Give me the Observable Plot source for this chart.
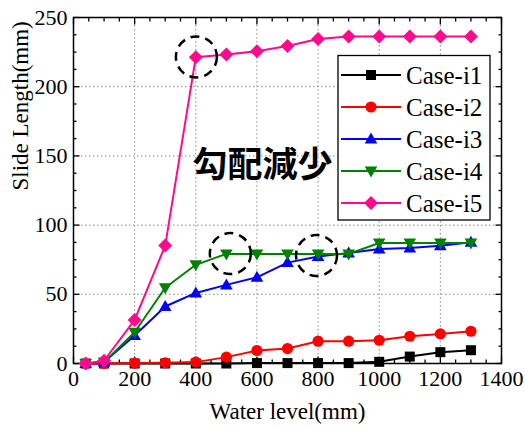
<!DOCTYPE html>
<html><head><meta charset="utf-8">
<script src="https://cdn.jsdelivr.net/npm/d3@7"></script>
<script src="https://cdn.jsdelivr.net/npm/@observablehq/plot@0.6"></script>
<style>
body{margin:0;background:#fff}
</style>
</head><body><div id="chart"></div>
<script>
// ---- data ----
const waterLevel = [40, 100, 200, 300, 400, 500, 600, 700, 800, 900, 1000, 1100, 1200, 1300];
const caseI1 = [0, 0, 0, 0, 0, 0, 0.3, 0.3, 0.3, 0.3, 1.2, 5, 8.2, 9.6];
const caseI2 = [0, 0, 0.3, 0.5, 1, 4.6, 9.4, 10.8, 16.1, 16.1, 16.8, 19.7, 21.4, 23.3];
const caseI3 = [0, 1, 20.2, 41.2, 51, 56.8, 62.3, 72.9, 77.3, 79.9, 82.8, 83.5, 85, 87.6];
const caseI4 = [0, 1, 22.6, 54.7, 71.3, 79.2, 79.2, 79.2, 79.2, 79.2, 87.1, 87.1, 87.1, 87.1];
const caseI5 = [0, 2, 31.5, 85.2, 221.2, 223.2, 225.6, 229.4, 234.5, 236.2, 236.2, 236.2, 236.2, 236.2];
const seriesNames = ["Case-i1", "Case-i2", "Case-i3", "Case-i4", "Case-i5"];
const seriesValues = [caseI1, caseI2, caseI3, caseI4, caseI5];
const seriesColors = ["#000000", "#ff0000", "#0000ff", "#008000", "#ff0a8c"];
const xTicks = [0, 200, 400, 600, 800, 1000, 1200, 1400];
const yTicks = [0, 50, 100, 150, 200, 250];
const xMinorTicks = [50, 100, 150, 250, 300, 350, 450, 500, 550, 650, 700, 750, 850, 900, 950, 1050, 1100, 1150, 1250, 1300, 1350];
const yMinorTicks = [12.5, 25, 37.5, 62.5, 75, 87.5, 112.5, 125, 137.5, 162.5, 175, 187.5, 212.5, 225, 237.5];
const xGrid = [200, 400, 600, 800, 1000, 1200];
const yGrid = [50, 100, 150, 200];
const xTitle = "Water level(mm)";
const yTitle = "Slide Length(mm)";
const noteText = "勾配減少";
const noteX = 618, noteY = 143;
const circleX = [402, 513, 795];
const circleY = [221.5, 79.4, 78];

// ---- symbols ----
const symSquare = {draw(c) { c.rect(-5, -5, 10, 10); }};
const symCircle = {draw(c) { c.moveTo(5.6, 0); c.arc(0, 0, 5.6, 0, 2 * Math.PI); }};
const symUp = {draw(c) { c.moveTo(0, -6.5); c.lineTo(6.3, 4.5); c.lineTo(-6.3, 4.5); c.closePath(); }};
const symDown = {draw(c) { c.moveTo(0, 6.5); c.lineTo(6.3, -4.5); c.lineTo(-6.3, -4.5); c.closePath(); }};
const symDiamond = {draw(c) { c.moveTo(0, -7); c.lineTo(7, 0); c.lineTo(0, 7); c.lineTo(-7, 0); c.closePath(); }};
const seriesSymbols = [symSquare, symCircle, symUp, symDown, symDiamond];

const seriesMarks = [];
seriesNames.forEach((name, i) => {
  const rows = waterLevel.map((x, j) => ({x, y: seriesValues[i][j], series: name}));
  seriesMarks.push(Plot.line(rows, {x: "x", y: "y", stroke: seriesColors[i], strokeWidth: 2}));
  seriesMarks.push(Plot.dot(rows, {x: "x", y: "y", fill: seriesColors[i], stroke: "none", symbol: seriesSymbols[i], r: 5}));
});

const serifFamily = "\"Liberation Serif\", \"DejaVu Serif\", \"Times New Roman\", Times, serif";
const cjkFamily = "\"Noto Sans CJK JP\", \"Noto Sans CJK SC\", sans-serif";
const fmt = d3.format("d");
const chart = Plot.plot({
  width: 525, height: 428,
  marginLeft: 73, marginRight: 24, marginTop: 17, marginBottom: 65,
  style: {fontSize: "21px", background: "white", color: "black"},
  x: {domain: [0, 1400]},
  y: {domain: [0, 250]},
  marks: [
    Plot.gridX(xGrid, {stroke: "#8a8a8a", strokeOpacity: 1, strokeWidth: 1, strokeDasharray: "1.5,2.5"}),
    Plot.gridY(yGrid, {stroke: "#8a8a8a", strokeOpacity: 1, strokeWidth: 1, strokeDasharray: "1.5,2.5"}),
    Plot.axisX(xTicks, {anchor: "bottom", tickSize: 0, tickPadding: 7, label: null, fontSize: 22, tickFormat: fmt}),
    Plot.axisY(yTicks, {anchor: "left", tickSize: 0, tickPadding: 6, label: null, fontSize: 22, tickFormat: fmt}),
    Plot.axisX(xTicks, {anchor: "bottom", tickSize: -6.5, fill: "none", strokeWidth: 1.3}),
    Plot.axisX(xMinorTicks, {anchor: "bottom", tickSize: -3.5, fill: "none", strokeWidth: 1.3}),
    Plot.axisX(xTicks, {anchor: "top", tickSize: -6.5, fill: "none", strokeWidth: 1.3}),
    Plot.axisX(xMinorTicks, {anchor: "top", tickSize: -3.5, fill: "none", strokeWidth: 1.3}),
    Plot.axisY(yTicks, {anchor: "left", tickSize: -6.5, fill: "none", strokeWidth: 1.3}),
    Plot.axisY(yMinorTicks, {anchor: "left", tickSize: -3.5, fill: "none", strokeWidth: 1.3}),
    Plot.axisY(yTicks, {anchor: "right", tickSize: -6.5, fill: "none", strokeWidth: 1.3}),
    Plot.axisY(yMinorTicks, {anchor: "right", tickSize: -3.5, fill: "none", strokeWidth: 1.3}),
    Plot.frame({stroke: "black", strokeWidth: 1.5}),
    Plot.text([xTitle], {frameAnchor: "bottom", dy: 55, text: d => d, fontSize: 23}),
    Plot.text([yTitle], {frameAnchor: "left", dx: -53, rotate: -90, text: d => d, fontSize: 23}),
    ...seriesMarks,
    Plot.dot(circleX.map((x, i) => ({x, y: circleY[i]})), {x: "x", y: "y", r: 20.5, stroke: "black", strokeWidth: 2.5, strokeDasharray: "9,6", fill: "none"}),
    Plot.text([noteText], {x: () => noteX, y: () => noteY, text: d => d, fontSize: 35, fontWeight: "bold", fill: "black", className: "cjk-note"})
  ]
});
document.getElementById("chart").appendChild(chart);

// ---- legend (inside plot, top right) ----
const svg = d3.select(chart);
const lg = svg.append("g").attr("class", "legend");
lg.append("rect").attr("x", 338).attr("y", 55.5).attr("width", 152).attr("height", 164.5)
  .attr("fill", "white").attr("stroke", "black").attr("stroke-width", 1.3);
seriesNames.forEach((name, i) => {
  const yy = 75 + i * 32;
  lg.append("line").attr("x1", 341).attr("x2", 401).attr("y1", yy).attr("y2", yy)
    .attr("stroke", seriesColors[i]).attr("stroke-width", 2);
  lg.append("path").attr("d", d3.symbol(seriesSymbols[i])()).attr("transform", `translate(371,${yy})`)
    .attr("fill", seriesColors[i]);
  lg.append("text").attr("x", 406).attr("y", yy).attr("dy", "0.35em").attr("font-size", 25)
    .attr("text-anchor", "start").attr("fill", "black").text(name);
});

// fonts applied inline on every text element
svg.selectAll("text").each(function() {
  const isCjk = this.closest(".cjk-note") != null;
  this.setAttribute("font-family", isCjk ? cjkFamily : serifFamily);
  this.style.setProperty("font-family", isCjk ? cjkFamily : serifFamily, "important");
});
</script>
</body></html>
